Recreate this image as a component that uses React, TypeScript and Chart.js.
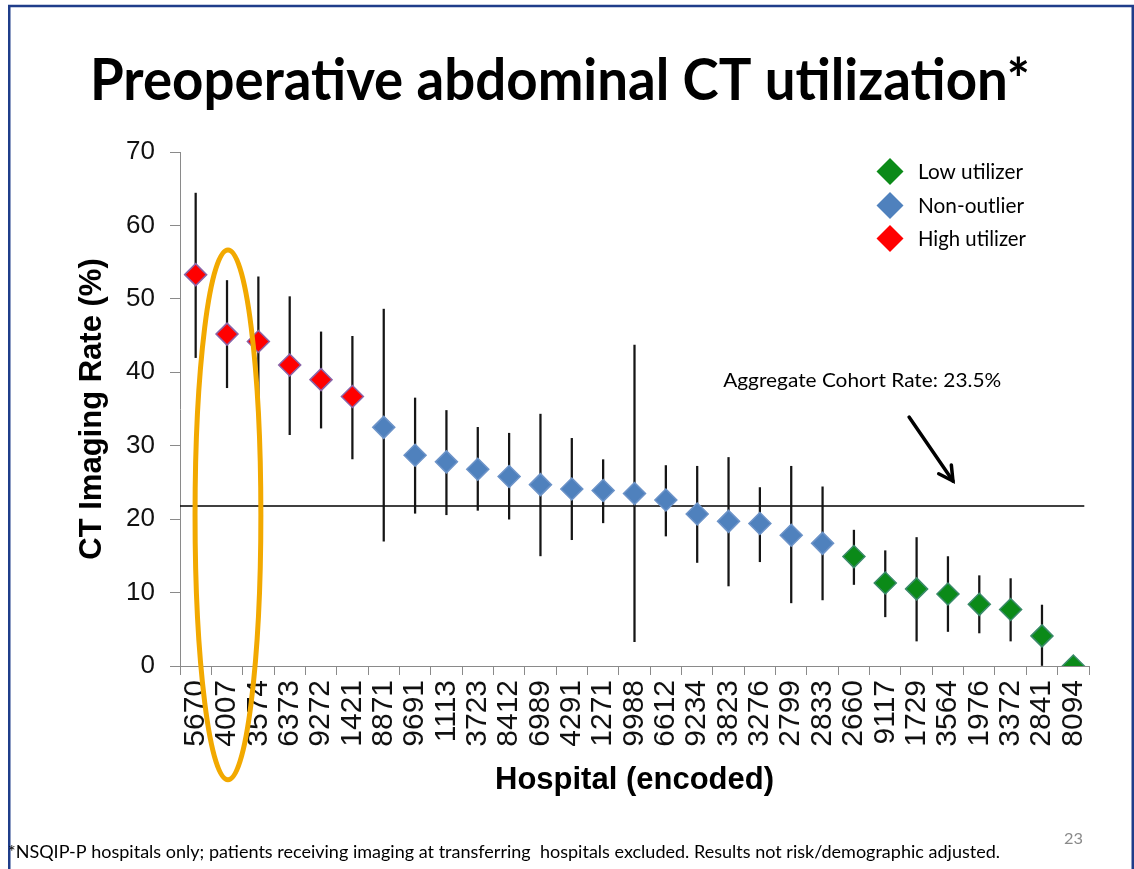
import React, { useEffect, useRef } from "react";
import { Chart, registerables } from "chart.js";

Chart.register(...registerables);

// ---------------- data ----------------
const hospitals = [
  "5670", "4007", "3574", "6373", "9272", "1421", "8871", "9691", "1113", "3723",
  "8412", "6989", "4291", "1271", "9988", "6612", "9234", "3823", "3276", "2799",
  "2833", "2660", "9117", "1729", "3564", "1976", "3372", "2841", "8094",
];
const rates = [
  53.3, 45.2, 44.2, 41.0, 39.0, 36.7, 32.5, 28.7, 27.8, 26.8,
  25.8, 24.7, 24.1, 23.9, 23.5, 22.6, 20.7, 19.7, 19.4, 17.8,
  16.7, 14.9, 11.3, 10.5, 9.8, 8.4, 7.7, 4.1, 0,
];
const lowerCI = [
  42.0, 37.9, 35.3, 31.5, 32.4, 28.2, 17.0, 20.8, 20.6, 21.2,
  20.0, 15.0, 17.2, 19.5, 3.3, 17.7, 14.1, 10.9, 14.2, 8.6,
  9.0, 11.1, 6.7, 3.4, 4.7, 4.5, 3.4, 0, 0,
];
const upperCI = [
  64.4, 52.5, 53.0, 50.3, 45.5, 44.9, 48.6, 36.5, 34.8, 32.5,
  31.7, 34.3, 31.0, 28.1, 43.7, 27.3, 27.2, 28.4, 24.3, 27.2,
  24.4, 18.5, 15.7, 17.5, 14.9, 12.3, 11.9, 8.3, 0,
];
// H = high utilizer, N = non-outlier, L = low utilizer
const groups = [
  "H", "H", "H", "H", "H", "H", "N", "N", "N", "N",
  "N", "N", "N", "N", "N", "N", "N", "N", "N", "N",
  "N", "L", "L", "L", "L", "L", "L", "L", "L",
];
const groupKeys = ["L", "N", "H"];
const groupLabels = ["Low utilizer", "Non-outlier", "High utilizer"];
const groupColors = ["#0B8A18", "#4F81BD", "#FF0000"];
const groupBorders = ["#3A8A6A", "#6C93C8", "#8A64A8"];

const aggregateRate = 21.8;
const aggregateLabel = "Aggregate Cohort Rate: 23.5%";
const yMin = 0;
const yMax = 70;
const yStep = 10;

const titleText = "Preoperative abdominal CT utilization*";
const footnoteText =
  "*NSQIP-P hospitals only; patients receiving imaging at transferring  hospitals excluded. Results not risk/demographic adjusted.";
const pageNumber = "23";
const xTitle = "Hospital (encoded)";
const yTitle = "CT Imaging Rate (%)";

// annotation anchors in data coordinates (category index, value)
const labelAnchor = [16.83, 38.0];
const arrowFrom = [22.76, 33.9];
const arrowTo = [24.16, 25.2];
const lineEndIndex = 28.35;
const highlightIndex = 1.03;
const highlightTop = 56.65;
const highlightBottom = -15.5;
const highlightHalfWidth = 1.05; // in categories

// ---------------- drawing helpers ----------------
const SANS = "'Liberation Sans', Arial, sans-serif";
const SLIDE = "Lato, 'Open Sans', sans-serif";

function fitText(ctx: CanvasRenderingContext2D, text: string, x: number, y: number, width: number) {
  const w = ctx.measureText(text).width;
  ctx.save();
  ctx.translate(x, y);
  ctx.scale(width / w, 1);
  ctx.textAlign = "left";
  ctx.fillText(text, 0, 0);
  ctx.restore();
}

function diamond(ctx: CanvasRenderingContext2D, cx: number, cy: number, r: number) {
  ctx.beginPath();
  ctx.moveTo(cx, cy - r);
  ctx.lineTo(cx + r, cy);
  ctx.lineTo(cx, cy + r);
  ctx.lineTo(cx - r, cy);
  ctx.closePath();
}

const slidePlugin = {
  id: "slideDecor",
  beforeDraw(chart: any) {
    const { ctx, width, height } = chart;
    ctx.save();
    ctx.fillStyle = "#ffffff";
    ctx.fillRect(0, 0, width, height);
    // slide frame
    ctx.strokeStyle = "#1F3D8A";
    ctx.lineWidth = 2.5;
    ctx.beginPath();
    ctx.moveTo(9.25, height + 5);
    ctx.lineTo(9.25, 6);
    ctx.lineTo(1132.75, 6);
    ctx.lineTo(1132.75, height + 5);
    ctx.stroke();
    // title
    ctx.fillStyle = "#000000";
    ctx.textBaseline = "alphabetic";
    ctx.font = `bold 58px ${SLIDE}`;
    fitText(ctx, titleText, 90, 100, 940);
    // footnote
    ctx.font = `17px ${SLIDE}`;
    fitText(ctx, footnoteText, 8, 858, 992);
    // page number
    ctx.fillStyle = "#8A8A8A";
    ctx.font = `16px ${SLIDE}`;
    fitText(ctx, pageNumber, 1064, 844, 19);
    ctx.restore();
  },
  beforeDatasetsDraw(chart: any) {
    const { ctx, chartArea, scales } = chart;
    const y = scales.y.getPixelForValue(aggregateRate);
    const x2 = scales.x.getPixelForValue(lineEndIndex);
    ctx.save();
    ctx.strokeStyle = "#000";
    ctx.lineWidth = 1.5;
    ctx.beginPath();
    ctx.moveTo(chartArea.left, y);
    ctx.lineTo(x2, y);
    ctx.stroke();
    ctx.restore();
  },
  afterDraw(chart: any) {
    const { ctx, scales } = chart;
    const xs = scales.x;
    const ys = scales.y;
    ctx.save();
    // annotation label
    ctx.fillStyle = "#000";
    ctx.textBaseline = "alphabetic";
    ctx.font = `20px ${SLIDE}`;
    fitText(ctx, aggregateLabel, xs.getPixelForValue(labelAnchor[0]), ys.getPixelForValue(labelAnchor[1]), 278);
    // arrow
    const x0 = xs.getPixelForValue(arrowFrom[0]);
    const y0 = ys.getPixelForValue(arrowFrom[1]);
    const x1 = xs.getPixelForValue(arrowTo[0]);
    const y1 = ys.getPixelForValue(arrowTo[1]);
    ctx.strokeStyle = "#000";
    ctx.lineWidth = 3.5;
    ctx.lineCap = "round";
    ctx.beginPath();
    ctx.moveTo(x0, y0);
    ctx.lineTo(x1, y1);
    ctx.stroke();
    const ang = Math.atan2(y1 - y0, x1 - x0);
    const head = 16;
    const spread = 0.5;
    ctx.beginPath();
    ctx.moveTo(x1 - head * Math.cos(ang - spread), y1 - head * Math.sin(ang - spread));
    ctx.lineTo(x1, y1);
    ctx.lineTo(x1 - head * Math.cos(ang + spread), y1 - head * Math.sin(ang + spread));
    ctx.stroke();
    // legend
    const legendY = [171.5, 205.5, 238.5];
    const legendW = [105, 106, 108];
    ctx.font = `21px ${SLIDE}`;
    for (let i = 0; i < groupLabels.length; i++) {
      diamond(ctx, 890, legendY[i], 13.5);
      ctx.fillStyle = groupColors[i];
      ctx.fill();
      ctx.fillStyle = "#000";
      fitText(ctx, groupLabels[i], 918, legendY[i] + 7.6, legendW[i]);
    }
    // highlight ellipse
    const cx = xs.getPixelForValue(highlightIndex);
    const rx = (xs.getPixelForValue(1) - xs.getPixelForValue(0)) * highlightHalfWidth;
    const yt = ys.getPixelForValue(highlightTop);
    const yb = ys.getPixelForValue(highlightBottom);
    ctx.strokeStyle = "#F2A900";
    ctx.lineWidth = 5;
    ctx.beginPath();
    ctx.ellipse(cx, (yt + yb) / 2, rx, (yb - yt) / 2, 0, 0, Math.PI * 2);
    ctx.stroke();
    ctx.restore();
  },
};

export default function App() {
  const ref = useRef<HTMLCanvasElement>(null);

  useEffect(() => {
    const pointSets = groupKeys.map((key, gi) => ({
      type: "line" as const,
      label: groupLabels[gi],
      data: rates.map((v, i) => (groups[i] === key ? v : null)),
      showLine: false,
      pointStyle: "rectRot" as const,
      pointRadius: 11,
      pointHoverRadius: 11,
      pointBackgroundColor: groupColors[gi],
      pointBorderColor: groupBorders[gi],
      pointBorderWidth: 1.5,
      backgroundColor: groupColors[gi],
      borderColor: groupBorders[gi],
      order: 1,
    }));

    const errorBars = {
      type: "bar" as const,
      label: "95% CI",
      data: lowerCI.map((lo, i) => [lo, upperCI[i]]),
      backgroundColor: "#151515",
      borderWidth: 0,
      barThickness: 1.6,
      order: 3,
    };

    const chart = new Chart(ref.current as HTMLCanvasElement, {
      type: "bar",
      data: {
        labels: hospitals,
        datasets: [errorBars as any, ...(pointSets as any[])],
      },
      options: {
        animation: false,
        responsive: false,
        devicePixelRatio: 1,
        layout: { padding: { left: 70, right: 45, top: 152, bottom: 66 } },
        plugins: {
          legend: { display: false },
          tooltip: { enabled: false },
          title: { display: false },
        },
        scales: {
          x: {
            type: "category",
            offset: true,
            grid: {
              display: true,
              drawOnChartArea: false,
              offset: true,
              tickLength: 9,
              color: "#8A8A8A",
              lineWidth: 1,
            },
            border: { display: true, color: "#8A8A8A", width: 1 },
            ticks: {
              autoSkip: false,
              minRotation: 90,
              maxRotation: 90,
              padding: 5,
              color: "#111",
              font: { family: SANS, size: 30 },
            },
            title: {
              display: true,
              text: xTitle,
              color: "#000",
              font: { family: SANS, size: 31, weight: "bold" },
              padding: 4,
            },
            afterFit: (s: any) => {
              s.height = 137;
            },
          },
          y: {
            min: yMin,
            max: yMax,
            ticks: {
              stepSize: yStep,
              padding: 15,
              color: "#111",
              font: { family: SANS, size: 26 },
            },
            grid: {
              drawOnChartArea: false,
              tickLength: 10,
              color: "#8A8A8A",
            },
            border: { display: true, color: "#8A8A8A", width: 1 },
            title: {
              display: true,
              text: yTitle,
              color: "#000",
              font: { family: SANS, size: 31, weight: "bold" },
              padding: 4,
            },
            afterFit: (s: any) => {
              s.width = 110;
            },
          },
        },
      } as any,
      plugins: [slidePlugin],
    });
    return () => chart.destroy();
  }, []);

  return (
    <div
      style={{
        position: "fixed",
        left: 0,
        top: 0,
        width: 1134,
        height: 869,
        overflow: "hidden",
        background: "#fff",
      }}
    >
      <canvas ref={ref} width={1134} height={869} style={{ display: "block", width: 1134, height: 869 }} />
    </div>
  );
}
